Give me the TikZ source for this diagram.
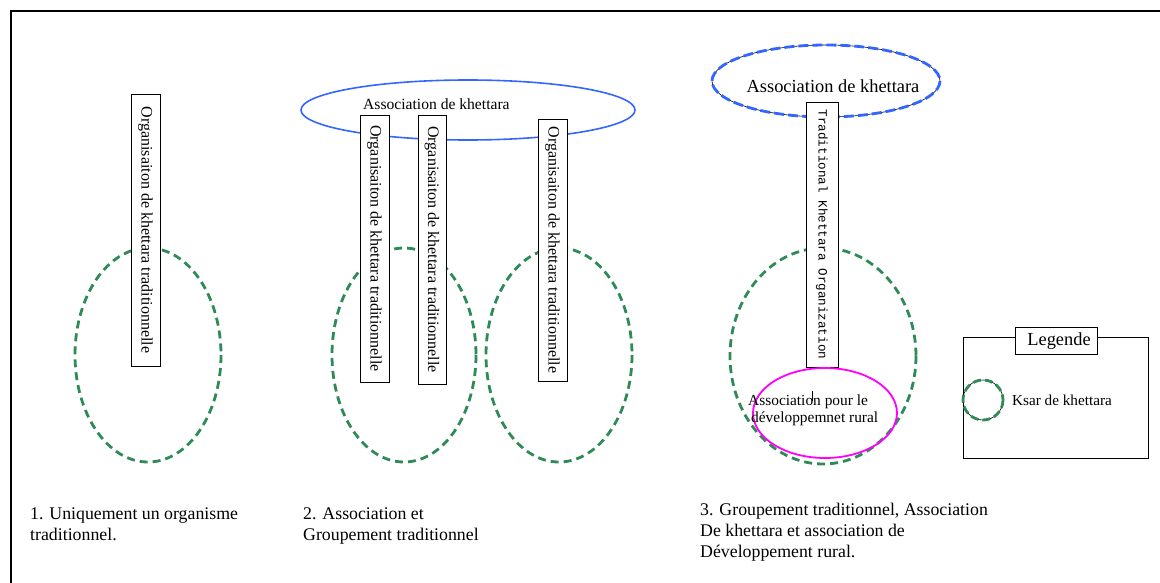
\documentclass[tikz,border=0pt]{standalone}
\usepackage{fontspec}
\setmainfont{Liberation Serif}
\newfontfamily\monofont{Liberation Mono}
\definecolor{ksargreen}{RGB}{46,139,87}
\definecolor{assocblue}{RGB}{51,102,255}
\definecolor{devmagenta}{RGB}{255,0,255}
\tikzset{
  ksar/.style={draw=ksargreen, line width=2.8pt, dash pattern=on 8pt off 5pt},
  orgbar/.style={draw, fill=white, line width=0.9pt, rotate=-90, inner sep=0pt, font=\fontsize{16}{18}\selectfont},
  caption/.style={anchor=north west, align=left, inner sep=0pt, font=\fontsize{17.8}{21}\selectfont},
}
\begin{document}
\begin{tikzpicture}[x=1pt,y=-1pt]
\useasboundingbox (0,0) rectangle (1160,583);
% page frame
\draw[line width=1.4pt] (11,583) -- (11,11) -- (1160,11);

% ---------- case 1 ----------
\draw[ksar] (148,355) ellipse [x radius=73, y radius=107];
\node[orgbar, minimum width=272pt, minimum height=29pt] (org1) at (145.5,230) {Organisaiton de khettara traditionnelle};
\node[caption] (cap1) at (30,508) {1. Uniquement un organisme\\traditionnel.};

% ---------- case 2 ----------
\draw[assocblue, line width=1.6pt] (468,110) ellipse [x radius=167, y radius=30];
\node[anchor=base west, inner sep=0pt, font=\fontsize{15.6}{18}\selectfont] (assoc2) at (363,110) {Association de khettara};
\draw[ksar] (404,355) ellipse [x radius=72, y radius=107];
\draw[ksar] (559,355) ellipse [x radius=73, y radius=107];
\node[orgbar, minimum width=267pt, minimum height=29pt] (org2a) at (374.5,248.5) {Organisaiton de khettara traditionnelle};
\node[orgbar, minimum width=269pt, minimum height=28pt] (org2b) at (432,249.5) {Organisaiton de khettara traditionnelle};
\node[orgbar, minimum width=262pt, minimum height=29pt] (org2c) at (552.5,250) {Organisaiton de khettara traditionnelle};
\node[caption] (cap2) at (303,508) {2. Association et\\Groupement traditionnel};

% ---------- case 3 ----------
\draw[black, line width=0.6pt] (826,81) ellipse [x radius=114, y radius=36];
\draw[assocblue, line width=2.8pt, dash pattern=on 10pt off 4pt] (826,81) ellipse [x radius=114, y radius=36];
\node[inner sep=0pt, font=\fontsize{18.4}{20}\selectfont] (assoc3) at (833,86) {Association de khettara};
\draw[ksar] (823,356) ellipse [x radius=93, y radius=108];
\node[orgbar, minimum width=265pt, minimum height=32pt, font=\monofont\fontsize{12.6}{14}\selectfont] (org3) at (822,234.5) {Traditional Khettara Organization};
\draw[devmagenta, line width=1.8pt] (825,413) ellipse [x radius=72, y radius=45];
\draw[line width=0.6pt] (812,391) -- (812,401);
\node[anchor=north west, align=left, inner sep=0pt, font=\fontsize{15.4}{17}\selectfont] (dev3) at (748,395) {Association pour le\\\hspace*{3pt}développemnet rural};
\node[caption] (cap3) at (700,503) {3. Groupement traditionnel, Association\\De khettara et association de\\Développement rural.};

% ---------- legend ----------
\draw[line width=1pt] (963,337) rectangle (1148,458);
\node[draw, fill=white, line width=1pt, minimum width=82pt, minimum height=27pt, inner sep=0pt, font=\fontsize{18.4}{20}\selectfont] (legtitle) at (1056,341) {\hspace*{6pt}Legende};
\draw[black, line width=0.6pt] (983,400) circle [radius=20];
\draw[ksargreen, line width=2.8pt, dash pattern=on 8pt off 4pt] (983,400) circle [radius=20];
\node[anchor=west, inner sep=0pt, font=\fontsize{15.2}{17}\selectfont] (legksar) at (1012,400) {Ksar de khettara};
\end{tikzpicture}
\end{document}
